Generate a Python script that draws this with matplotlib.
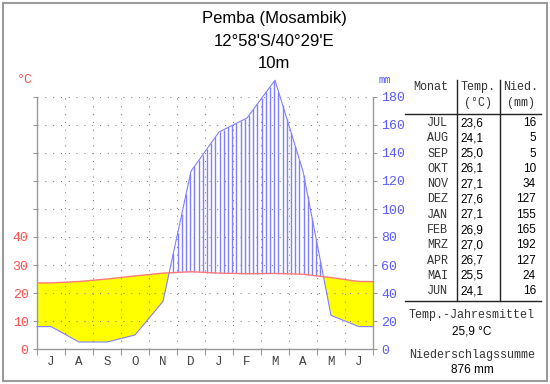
import numpy as np
import matplotlib
matplotlib.use('Agg')
import matplotlib.pyplot as plt
from matplotlib.patches import Rectangle
from matplotlib.lines import Line2D
from matplotlib.collections import LineCollection

station = "Pemba (Mosambik)"
coords = "12°58'S/40°29'E"
elevation = "10m"
months_table = ["JUL", "AUG", "SEP", "OKT", "NOV", "DEZ", "JAN", "FEB", "MRZ", "APR", "MAI", "JUN"]
month_letters = ["J", "A", "S", "O", "N", "D", "J", "F", "M", "A", "M", "J"]
temp = [23.6, 24.1, 25.0, 26.1, 27.1, 27.6, 27.1, 26.9, 27.0, 26.7, 25.5, 24.1]
precip = [16, 5, 5, 10, 34, 127, 155, 165, 192, 127, 24, 16]
mean_temp = "25,9 °C"
total_precip = "876 mm"
temp_ticks = [0, 10, 20, 30, 40]
precip_ticks = [0, 20, 40, 60, 80, 100, 120, 140, 160, 180]

MONO = ['Liberation Mono', 'DejaVu Sans Mono']
SANS = ['Liberation Sans', 'DejaVu Sans']
RED = '#ff5050'
BLUE = '#5a5aff'
GRAY = '#999999'

W, H = 550, 384
fig = plt.figure(figsize=(W / 100, H / 100), dpi=100)


def fx(x):
    return x / W


def fy(y):
    return 1 - y / H


ax = fig.add_axes([fx(37), fy(349), 336 / W, 252 / H])
ax.set_xlim(0, 12)
ax.set_ylim(0, 90)

n = len(temp)
x = np.concatenate([[0], np.arange(n) + 0.5, [n]])
t = np.array([temp[0]] + temp + [temp[-1]])
p = np.array([precip[0]] + precip + [precip[-1]]) / 2.0

# arid area
ax.fill_between(x, p, t, where=p <= t, interpolate=True, color='#ffff00', lw=0, zorder=1)

# humid hatching
xs = np.arange(0.075, n, 0.15)
ti = np.interp(xs, x, t)
pi_ = np.interp(xs, x, p)
m = pi_ > ti
segs = [[(xx, a), (xx, b)] for xx, a, b in zip(xs[m], ti[m], pi_[m])]
lc = LineCollection(segs, colors=['#8080ff'], linewidths=1.0, zorder=2, clip_on=False, antialiased=True)
ax.add_collection(lc)

# grid
for yv in range(10, 91, 10):
    ax.axhline(yv, color='#808080', lw=0.75, ls=(0, (1, 6.5)), zorder=2.5)
for xv in range(1, n):
    ax.axvline(xv, color='#808080', lw=0.75, ls=(0, (1, 6.5)), zorder=2.5)

ax.plot(x, p, color='#8080ff', lw=0.8, zorder=3, clip_on=False)
ax.plot(x, t, color='#ff7a7a', lw=1.0, zorder=3.5)

for s in ['top', 'right']:
    ax.spines[s].set_visible(False)
for s in ['left', 'bottom']:
    ax.spines[s].set_color(GRAY)
    ax.spines[s].set_linewidth(1)

ax.set_yticks(range(0, 91, 10))
ax.set_yticklabels([str(v) if v in temp_ticks else '' for v in range(0, 91, 10)])
ax.tick_params(axis='y', length=3, color=GRAY, labelcolor=RED, labelsize=9.5, pad=3)
for lb in ax.get_yticklabels():
    lb.set_fontfamily(MONO)

ax.set_xticks(range(0, n + 1))
ax.set_xticklabels([])
ax.set_xticks(np.arange(n) + 0.5, minor=True)
ax.set_xticklabels(month_letters, minor=True, fontfamily=MONO, fontsize=9, color='#444444')
ax.tick_params(axis='x', which='major', length=4, color=GRAY)
ax.tick_params(axis='x', which='minor', length=0, pad=5)

ax2 = ax.twinx()
ax2.set_ylim(0, 180)
ax2.set_yticks(precip_ticks)
ax2.set_yticklabels([str(v) for v in precip_ticks], fontfamily=MONO, fontsize=9.5)
ax2.tick_params(axis='y', length=3, color=GRAY, labelcolor=BLUE, pad=3)
for s in ['top', 'left', 'bottom']:
    ax2.spines[s].set_visible(False)
ax2.spines['right'].set_color(GRAY)
ax2.spines['right'].set_linewidth(1)

# titles
for txt, yy in [(station, 19), (coords, 42), (elevation, 63)]:
    fig.text(fx(274), fy(yy), txt, ha='center', va='center', fontsize=12, fontfamily=SANS, color='black')

fig.text(fx(25), fy(80), '°C', ha='center', va='center', fontsize=9.5, fontfamily=MONO, color=RED)
fig.text(fx(385), fy(80), 'mm', ha='center', va='center', fontsize=7.5, fontfamily=MONO, color=BLUE)


# table
def fline(x0, y0, x1, y1, col='#222222', lw=1.0):
    fig.add_artist(Line2D([fx(x0), fx(x1)], [fy(y0), fy(y1)], color=col, lw=lw, transform=fig.transFigure))


TXT = '#333333'
fig.text(fx(431), fy(87), 'Monat', ha='center', va='center', fontsize=8.5, fontfamily=MONO, color=TXT)
fig.text(fx(478), fy(87), 'Temp.', ha='center', va='center', fontsize=8.5, fontfamily=MONO, color=TXT)
fig.text(fx(478), fy(103), '(°C)', ha='center', va='center', fontsize=8.5, fontfamily=MONO, color=TXT)
fig.text(fx(521), fy(87), 'Nied.', ha='center', va='center', fontsize=8.5, fontfamily=MONO, color=TXT)
fig.text(fx(521), fy(103), '(mm)', ha='center', va='center', fontsize=8.5, fontfamily=MONO, color=TXT)

fline(405, 114, 541, 114)
fline(405, 301, 541, 301)
fline(457, 80, 457, 301)
fline(500, 80, 500, 301)

for i in range(n):
    yy = 123 + i * 15.3
    fig.text(fx(448), fy(yy), months_table[i], ha='right', va='center', fontsize=8.5, fontfamily=MONO, color=TXT)
    fig.text(fx(483), fy(yy), f"{temp[i]:.1f}".replace('.', ','), ha='right', va='center', fontsize=8.5, fontfamily=SANS, color='black')
    fig.text(fx(536), fy(yy), str(precip[i]), ha='right', va='center', fontsize=8.5, fontfamily=SANS, color='black')

summary = []
summary.append(fig.text(fx(472), fy(315), 'Temp.-Jahresmittel', ha='center', va='center', fontsize=8.5, fontfamily=MONO, color=TXT))
fig.text(fx(472), fy(331), mean_temp, ha='center', va='center', fontsize=8.5, fontfamily=SANS, color='black')
summary.append(fig.text(fx(472), fy(355), 'Niederschlagssumme', ha='center', va='center', fontsize=8.5, fontfamily=MONO, color=TXT))
fig.text(fx(472), fy(370), total_precip, ha='center', va='center', fontsize=8.5, fontfamily=SANS, color='black')

# keep summary labels within their 130 px column
fig.canvas.draw()
r = fig.canvas.get_renderer()
for tx in summary:
    wpx = tx.get_window_extent(r).width
    if wpx > 130:
        tx.set_fontsize(8.5 * 130 / wpx)

# outer frame
fig.add_artist(Rectangle((fx(2.5), fy(380.5)), 544 / W, 378 / H, transform=fig.transFigure,
                         fill=False, ec='#9a9a9a', lw=1.5))

fig.savefig('out.png', dpi=100)
